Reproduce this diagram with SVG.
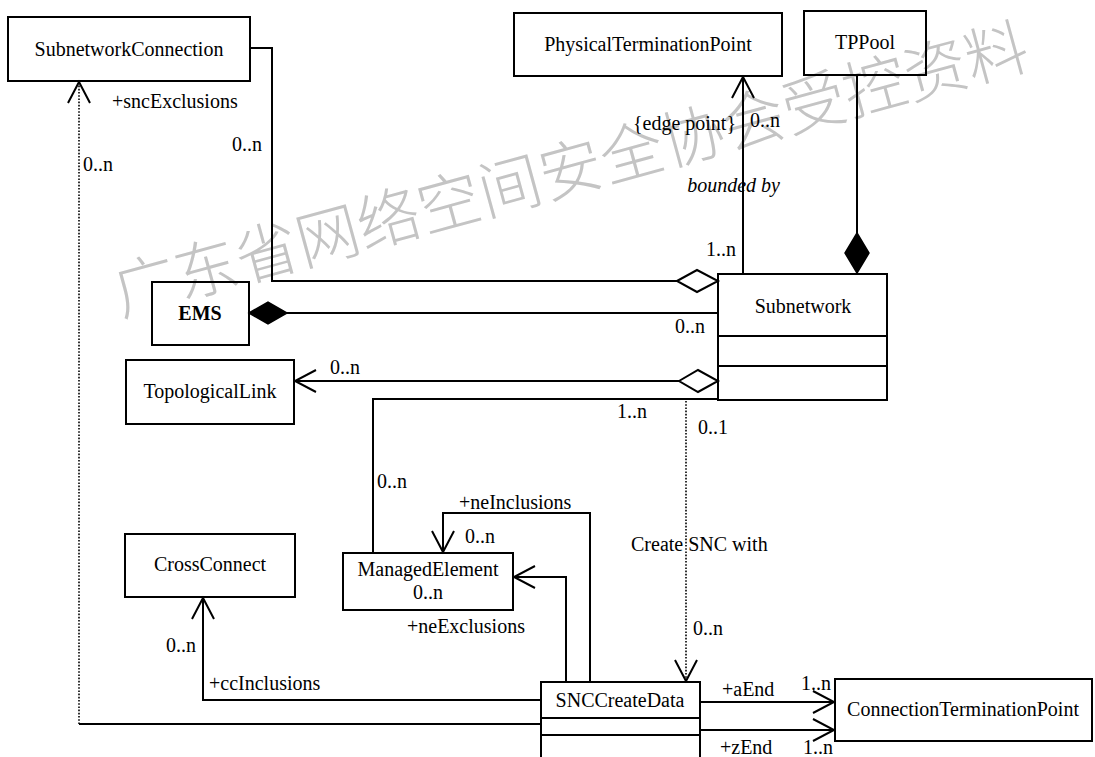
<svg xmlns="http://www.w3.org/2000/svg" width="1095" height="757" viewBox="0 0 1095 757">
<style>
.box{fill:none;stroke:#000;stroke-width:2}
.ln{fill:none;stroke:#000;stroke-width:2}
.dot{fill:none;stroke:#000;stroke-width:1.6;stroke-dasharray:1.6 1.6}
.t{font-family:"Liberation Serif","Times New Roman",serif;font-size:20px;fill:#000}
.c{text-anchor:middle}
.hol{fill:#fff;stroke:#000;stroke-width:2}
.fil{fill:#000;stroke:#000;stroke-width:1.5}
.wm{font-family:"Noto Sans CJK SC",sans-serif;font-size:63px;fill:#c4c4c4;font-weight:300}
</style>
<defs>
<marker id="open" markerUnits="userSpaceOnUse" markerWidth="26" markerHeight="26" viewBox="-23 -13 26 26" refX="0" refY="0" orient="auto" overflow="visible">
<path d="M-21,-11 L0,0 L-21,11" fill="none" stroke="#000" stroke-width="2"/>
</marker>
</defs>
<rect width="1095" height="757" fill="#fff"/>
<text class="wm" x="121" y="316" transform="rotate(-15.3 121 316)">广东省网络空间安全协会受控资料</text>

<g id="connectors">
<polyline class="ln" points="250,48 272,48 272,281 677,281"/>
<polygon class="hol" points="677,281 697,270 718,281 697,292"/>
<line class="ln" x1="287" y1="313" x2="718" y2="313"/>
<polygon class="fil" points="249,313 268,302 287,313 268,324"/>
<line class="ln" x1="679" y1="381" x2="295" y2="381" marker-end="url(#open)"/>
<polygon class="hol" points="679,381 698,370 718,381 698,392"/>
<polyline class="ln" points="718,399 373,399 373,553"/>
<line class="ln" x1="743" y1="274" x2="743" y2="77" marker-end="url(#open)"/>
<line class="ln" x1="857" y1="75" x2="857" y2="233"/>
<polygon class="fil" points="857,233 869,253 857,273 845,253"/>
<line class="dot" x1="686" y1="401" x2="686" y2="681" marker-end="url(#open)"/>
<polyline class="ln" points="590,682 590,513 443,513 443,552" marker-end="url(#open)"/>
<polyline class="ln" points="566,682 566,577 514,577" marker-end="url(#open)"/>
<polyline class="ln" points="541,700 203,700 203,598" marker-end="url(#open)"/>
<line class="ln" x1="541" y1="724" x2="79" y2="724"/>
<line class="dot" x1="79" y1="724" x2="79" y2="82" marker-end="url(#open)"/>
<line class="ln" x1="700" y1="702" x2="834" y2="702" marker-end="url(#open)"/>
<line class="ln" x1="700" y1="730" x2="834" y2="730" marker-end="url(#open)"/>
<text class="t" x="112" y="108">+sncExclusions</text>
<text class="t" x="232" y="151">0..n</text>
<text class="t" x="83" y="171">0..n</text>
<text class="t" x="736" y="130" text-anchor="end">{edge point}</text>
<text class="t" x="750" y="127">0..n</text>
<text class="t" x="780" y="192" text-anchor="end" font-style="italic">bounded by</text>
<text class="t" x="706" y="256">1..n</text>
<text class="t" x="675" y="333">0..n</text>
<text class="t" x="330" y="374">0..n</text>
<text class="t" x="617" y="418">1..n</text>
<text class="t" x="698" y="434">0..1</text>
<text class="t" x="377" y="488">0..n</text>
<text class="t" x="459" y="509">+neInclusions</text>
<text class="t" x="465" y="543">0..n</text>
<text class="t" x="631" y="551">Create SNC with</text>
<text class="t" x="693" y="635">0..n</text>
<text class="t" x="407" y="633">+neExclusions</text>
<text class="t" x="166" y="652">0..n</text>
<text class="t" x="209" y="690">+ccInclusions</text>
<text class="t" x="722" y="696">+aEnd</text>
<text class="t" x="801" y="690">1..n</text>
<text class="t" x="720" y="754">+zEnd</text>
<text class="t" x="803" y="754">1..n</text>
</g>

<g id="SubnetworkConnection">
<rect class="box" x="8" y="17" width="242" height="64"/>
<text class="t c" x="129" y="56">SubnetworkConnection</text>
</g>
<g id="PhysicalTerminationPoint">
<rect class="box" x="514" y="13" width="268" height="63"/>
<text class="t c" x="648" y="51">PhysicalTerminationPoint</text>
</g>
<g id="TPPool">
<rect class="box" x="804" y="11" width="122" height="64"/>
<text class="t c" x="865" y="49">TPPool</text>
</g>
<g id="EMS">
<rect class="box" x="152" y="282" width="97" height="63"/>
<text class="t c" x="200" y="320" font-weight="bold">EMS</text>
</g>
<g id="Subnetwork">
<rect class="box" x="718" y="274" width="169" height="126"/>
<line class="ln" x1="718" y1="336" x2="887" y2="336"/>
<line class="ln" x1="718" y1="366" x2="887" y2="366"/>
<text class="t c" x="803" y="313">Subnetwork</text>
</g>
<g id="TopologicalLink">
<rect class="box" x="126" y="360" width="168" height="64"/>
<text class="t c" x="210" y="398">TopologicalLink</text>
</g>
<g id="ManagedElement">
<rect class="box" x="343" y="553" width="170" height="57"/>
<text class="t c" x="428" y="576">ManagedElement</text>
<text class="t c" x="428" y="599">0..n</text>
</g>
<g id="CrossConnect">
<rect class="box" x="125" y="534" width="170" height="63"/>
<text class="t c" x="210" y="571">CrossConnect</text>
</g>
<g id="SNCCreateData">
<rect class="box" x="541" y="682" width="159" height="80"/>
<line class="ln" x1="541" y1="718" x2="700" y2="718"/>
<line class="ln" x1="541" y1="735" x2="700" y2="735"/>
<text class="t c" x="620" y="707">SNCCreateData</text>
</g>
<g id="ConnectionTerminationPoint">
<rect class="box" x="835" y="679" width="257" height="62"/>
<text class="t c" x="963" y="716">ConnectionTerminationPoint</text>
</g>
</svg>
